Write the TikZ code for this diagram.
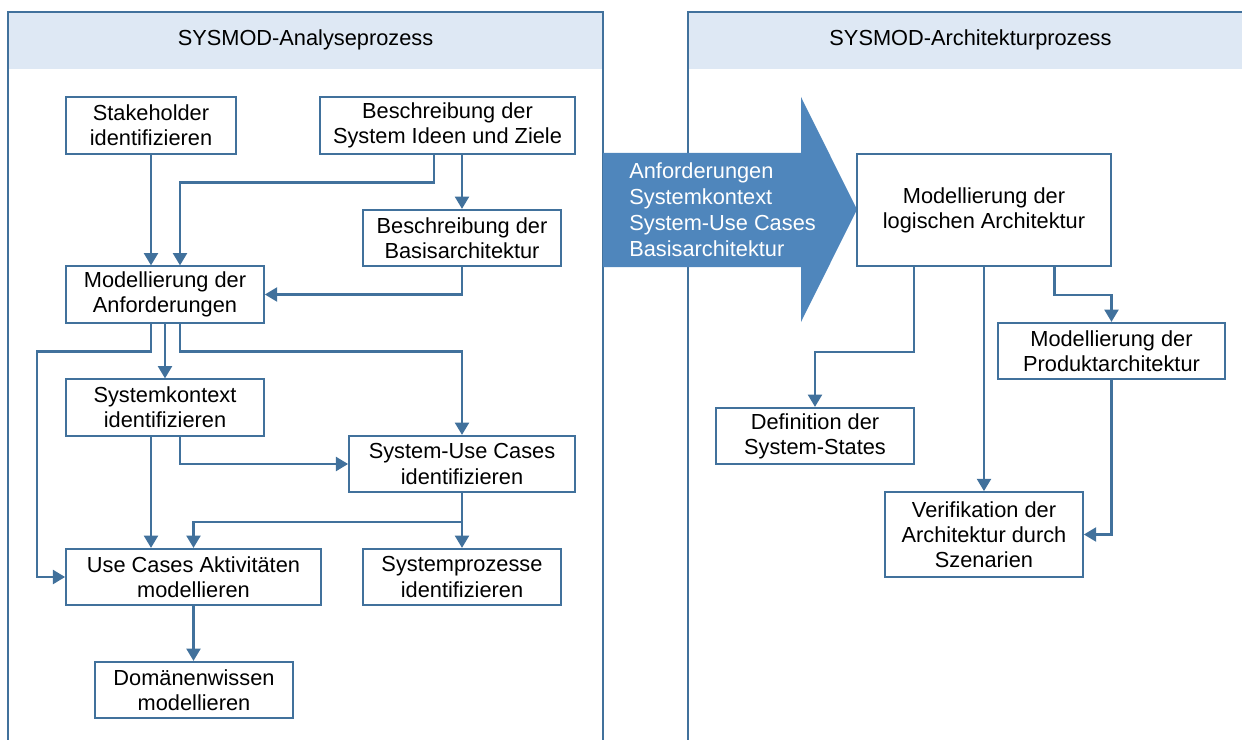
\documentclass[tikz,border=0pt]{standalone}
\usepackage{fontspec}
\setmainfont{Liberation Sans}
\usetikzlibrary{arrows.meta,calc,positioning}
\definecolor{linec}{HTML}{41719C}
\definecolor{headc}{HTML}{DEE8F4}
\definecolor{arrowc}{HTML}{4F86BC}
\newcommand{\boxfont}{\fontsize{12.4}{14.3}\selectfont}

\begin{document}
\begin{tikzpicture}[
  x=0.02cm, y=-0.02cm,
  block/.style={rectangle, draw=linec, line width=1pt, fill=white, align=center,
    inner sep=0pt, minimum width=3.96cm, minimum height=1.13cm, font=\boxfont},
  panel/.style={draw=linec, line width=1pt},
  flow/.style={draw=linec, line width=1.3pt, -{Triangle[length=7pt,width=8pt]}},
  font=\boxfont
]
\useasboundingbox (0,0) rectangle (1242,740);
\clip (0,0) rectangle (1242,740);

% panels
\fill[headc] (8,12) rectangle (603,69);
\fill[headc] (688,12) rectangle (1253,69);
\draw[panel] (8,760) -- (8,12) -- (603,12) -- (603,760);
\draw[panel] (688,760) -- (688,12) -- (1253,12) -- (1253,760);
\node (lhead) at (305.5,40) {SYSMOD-Analyseprozess};
\node (rhead) at (970.5,40) {SYSMOD-Architekturprozess};

% transfer arrow
\fill[arrowc] (603,153) -- (801,153) -- (801,97) -- (857,209.5) -- (801,322) -- (801,267) -- (603,267) -- cycle;
\node[anchor=west, align=left, text=white, inner sep=0pt,
  font=\fontsize{12.4}{14.8}\selectfont] (daten) at (629,210)
  {Anforderungen\\Systemkontext\\System-Use Cases\\Basisarchitektur};

% analysis
\node[block, minimum width=3.4cm] (stake) at (151,125.5) {Stakeholder\\identifizieren};
\node[block, minimum width=5.1cm] (ideen) at (447.5,125.5) {Beschreibung der\\System Ideen und Ziele};
\node[block] (basis) at (462,238) {Beschreibung der\\Basisarchitektur};
\node[block] (anf) at (165,294.5) {Modellierung der\\Anforderungen};
\node[block] (kontext) at (165,407.5) {Systemkontext\\identifizieren};
\node[block, minimum width=4.52cm] (sysuc) at (462,464) {System-Use Cases\\identifizieren};
\node[block, minimum width=5.1cm] (ucakt) at (193.5,577) {Use Cases Aktivitäten\\modellieren};
\node[block] (sysproz) at (462,577) {Systemprozesse\\identifizieren};
\node[block] (domaene) at (194,690) {Domänenwissen\\modellieren};

% architecture
\node[block, minimum width=5.08cm, minimum height=2.24cm] (logarch) at (984,210) {Modellierung der\\logischen Architektur};
\node[block, minimum width=4.54cm] (produkt) at (1111.5,351) {Modellierung der\\Produktarchitektur};
\node[block] (states) at (815,436) {Definition der\\System-States};
\node[block, minimum height=1.7cm] (verif) at (984,534.5) {Verifikation der\\Architektur durch\\Szenarien};

% connectors
\draw[flow] ($(stake.south)$) coordinate (s1) -- (s1 |- anf.north);
\draw[flow] ($(ideen.south)+(-13.5,0)$) -- ++(0,28) -| ($(anf.north)+(15,0)$);
\draw[flow] (basis.north |- ideen.south) -- (basis.north);
\draw[flow] (basis.south) |- (anf.east);
\draw[flow] ($(anf.south)+(-14,0)$) -- ++(0,28) -| ($(ucakt.west)+(-28,0)$) -- (ucakt.west);
\draw[flow] (anf.south) -- (kontext.north);
\draw[flow] ($(anf.south)+(15,0)$) -- ++(0,28) -| (sysuc.north);
\draw[flow] ($(kontext.south)+(-14,0)$) coordinate (k1) -- (k1 |- ucakt.north);
\draw[flow] ($(kontext.south)+(15,0)$) |- (sysuc.west);
\draw[flow] (sysuc.south) -- ++(0,29) -| (ucakt.north);
\draw[flow] (sysuc.south) -- (sysproz.north);
\draw[flow] (ucakt.south) -- (ucakt.south |- domaene.north);
\draw[flow] ($(logarch.south)+(-70,0)$) -- ++(0,85) -| (states.north);
\draw[flow] (logarch.south) -- (verif.north);
\draw[flow] ($(logarch.south)+(70.5,0)$) -- ++(0,28) -| (produkt.north);
\draw[flow] (produkt.south) |- (verif.east);
\end{tikzpicture}
\end{document}
